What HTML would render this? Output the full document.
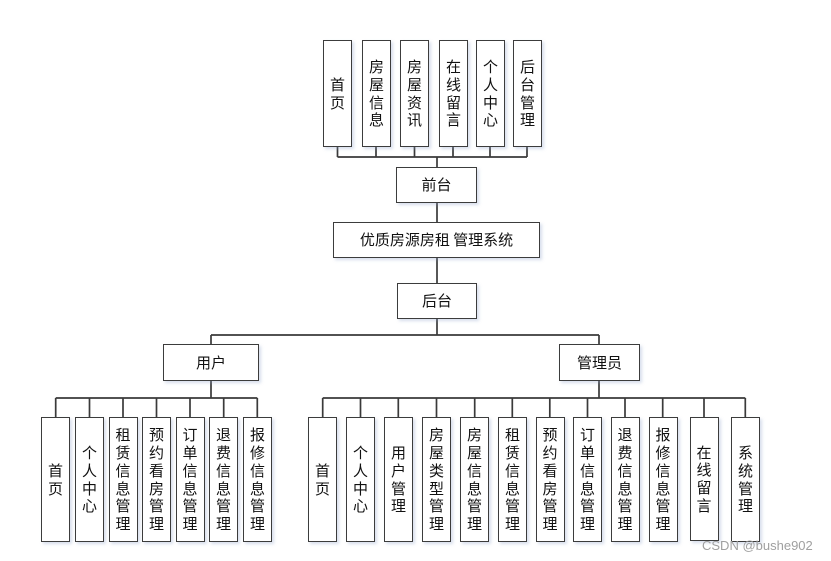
<!DOCTYPE html>
<html><head><meta charset="utf-8">
<style>
html,body{margin:0;padding:0;background:#fff;}
body{width:831px;height:561px;position:relative;overflow:hidden;font-family:"Liberation Sans","Noto Sans CJK SC",sans-serif;}
svg{position:absolute;left:0;top:0;}
.b{position:absolute;box-sizing:border-box;border:1.6px solid #3c3c3c;background:#fff;box-shadow:2px 2px 3px rgba(140,160,200,0.35);display:flex;align-items:center;justify-content:center;text-align:center;color:#111;font-size:15px;font-family:"Noto Sans CJK SC","WenQuanYi Zen Hei",sans-serif;}
.v{line-height:17.7px;width:29px;}
.h{line-height:18px;}
.wm{position:absolute;left:702px;top:538px;font-size:13px;color:#a0a0a0;font-family:"Liberation Sans",sans-serif;}
</style></head><body>
<svg width="831" height="561" viewBox="0 0 831 561">
<g stroke="#3a3a3a" stroke-width="1.7" fill="none">
<path d="M337.5 147V157M376 147V157M414.5 147V157M453 147V157M490 147V157M527 147V157M337.5 157H527"/>
<path d="M437 157V167M437 203V222M437 258V283M437 319V335M211 335H599M211 335V344M599 335V344"/>
<path d="M211 381V398M55.7 398H257.3M55.7 398V417M89.5 398V417M123 398V417M156.5 398V417M190 398V417M223.7 398V417M257.3 398V417"/>
<path d="M599 381V398M322.7 398H745.3M322.7 398V417M360.5 398V417M398.3 398V417M436.5 398V417M474.7 398V417M512.3 398V417M549.8 398V417M587.5 398V417M625 398V417M662.7 398V417M704 398V417M745.3 398V417"/>
</g>
</svg>

<div class="b v" style="left:323px;top:40px;height:107px;">首<br>页</div>
<div class="b v" style="left:362px;top:40px;height:107px;">房<br>屋<br>信<br>息</div>
<div class="b v" style="left:400px;top:40px;height:107px;">房<br>屋<br>资<br>讯</div>
<div class="b v" style="left:439px;top:40px;height:107px;">在<br>线<br>留<br>言</div>
<div class="b v" style="left:476px;top:40px;height:107px;">个<br>人<br>中<br>心</div>
<div class="b v" style="left:513px;top:40px;height:107px;">后<br>台<br>管<br>理</div>

<div class="b h" style="left:396px;top:167px;width:81px;height:36px;">前台</div>
<div class="b h" style="left:333px;top:222px;width:207px;height:36px;">优质房源房租 管理系统</div>
<div class="b h" style="left:397px;top:283px;width:80px;height:36px;">后台</div>
<div class="b h" style="left:163px;top:344px;width:96px;height:37px;">用户</div>
<div class="b h" style="left:559px;top:344px;width:81px;height:37px;">管理员</div>

<div class="b v" style="left:41px;top:417px;height:125px;">首<br>页</div>
<div class="b v" style="left:75px;top:417px;height:125px;">个<br>人<br>中<br>心</div>
<div class="b v" style="left:108.5px;top:417px;height:125px;">租<br>赁<br>信<br>息<br>管<br>理</div>
<div class="b v" style="left:142px;top:417px;height:125px;">预<br>约<br>看<br>房<br>管<br>理</div>
<div class="b v" style="left:175.5px;top:417px;height:125px;">订<br>单<br>信<br>息<br>管<br>理</div>
<div class="b v" style="left:209px;top:417px;height:125px;">退<br>费<br>信<br>息<br>管<br>理</div>
<div class="b v" style="left:243px;top:417px;height:125px;">报<br>修<br>信<br>息<br>管<br>理</div>

<div class="b v" style="left:308px;top:417px;height:125px;">首<br>页</div>
<div class="b v" style="left:346px;top:417px;height:125px;">个<br>人<br>中<br>心</div>
<div class="b v" style="left:384px;top:417px;height:125px;">用<br>户<br>管<br>理</div>
<div class="b v" style="left:422px;top:417px;height:125px;">房<br>屋<br>类<br>型<br>管<br>理</div>
<div class="b v" style="left:460px;top:417px;height:125px;">房<br>屋<br>信<br>息<br>管<br>理</div>
<div class="b v" style="left:498px;top:417px;height:125px;">租<br>赁<br>信<br>息<br>管<br>理</div>
<div class="b v" style="left:535.5px;top:417px;height:125px;">预<br>约<br>看<br>房<br>管<br>理</div>
<div class="b v" style="left:573px;top:417px;height:125px;">订<br>单<br>信<br>息<br>管<br>理</div>
<div class="b v" style="left:610.5px;top:417px;height:125px;">退<br>费<br>信<br>息<br>管<br>理</div>
<div class="b v" style="left:648.5px;top:417px;height:125px;">报<br>修<br>信<br>息<br>管<br>理</div>
<div class="b v" style="left:689.5px;top:417px;height:124px;">在<br>线<br>留<br>言</div>
<div class="b v" style="left:731px;top:417px;height:125px;">系<br>统<br>管<br>理</div>

<div class="wm">CSDN @bushe902</div>
</body></html>
